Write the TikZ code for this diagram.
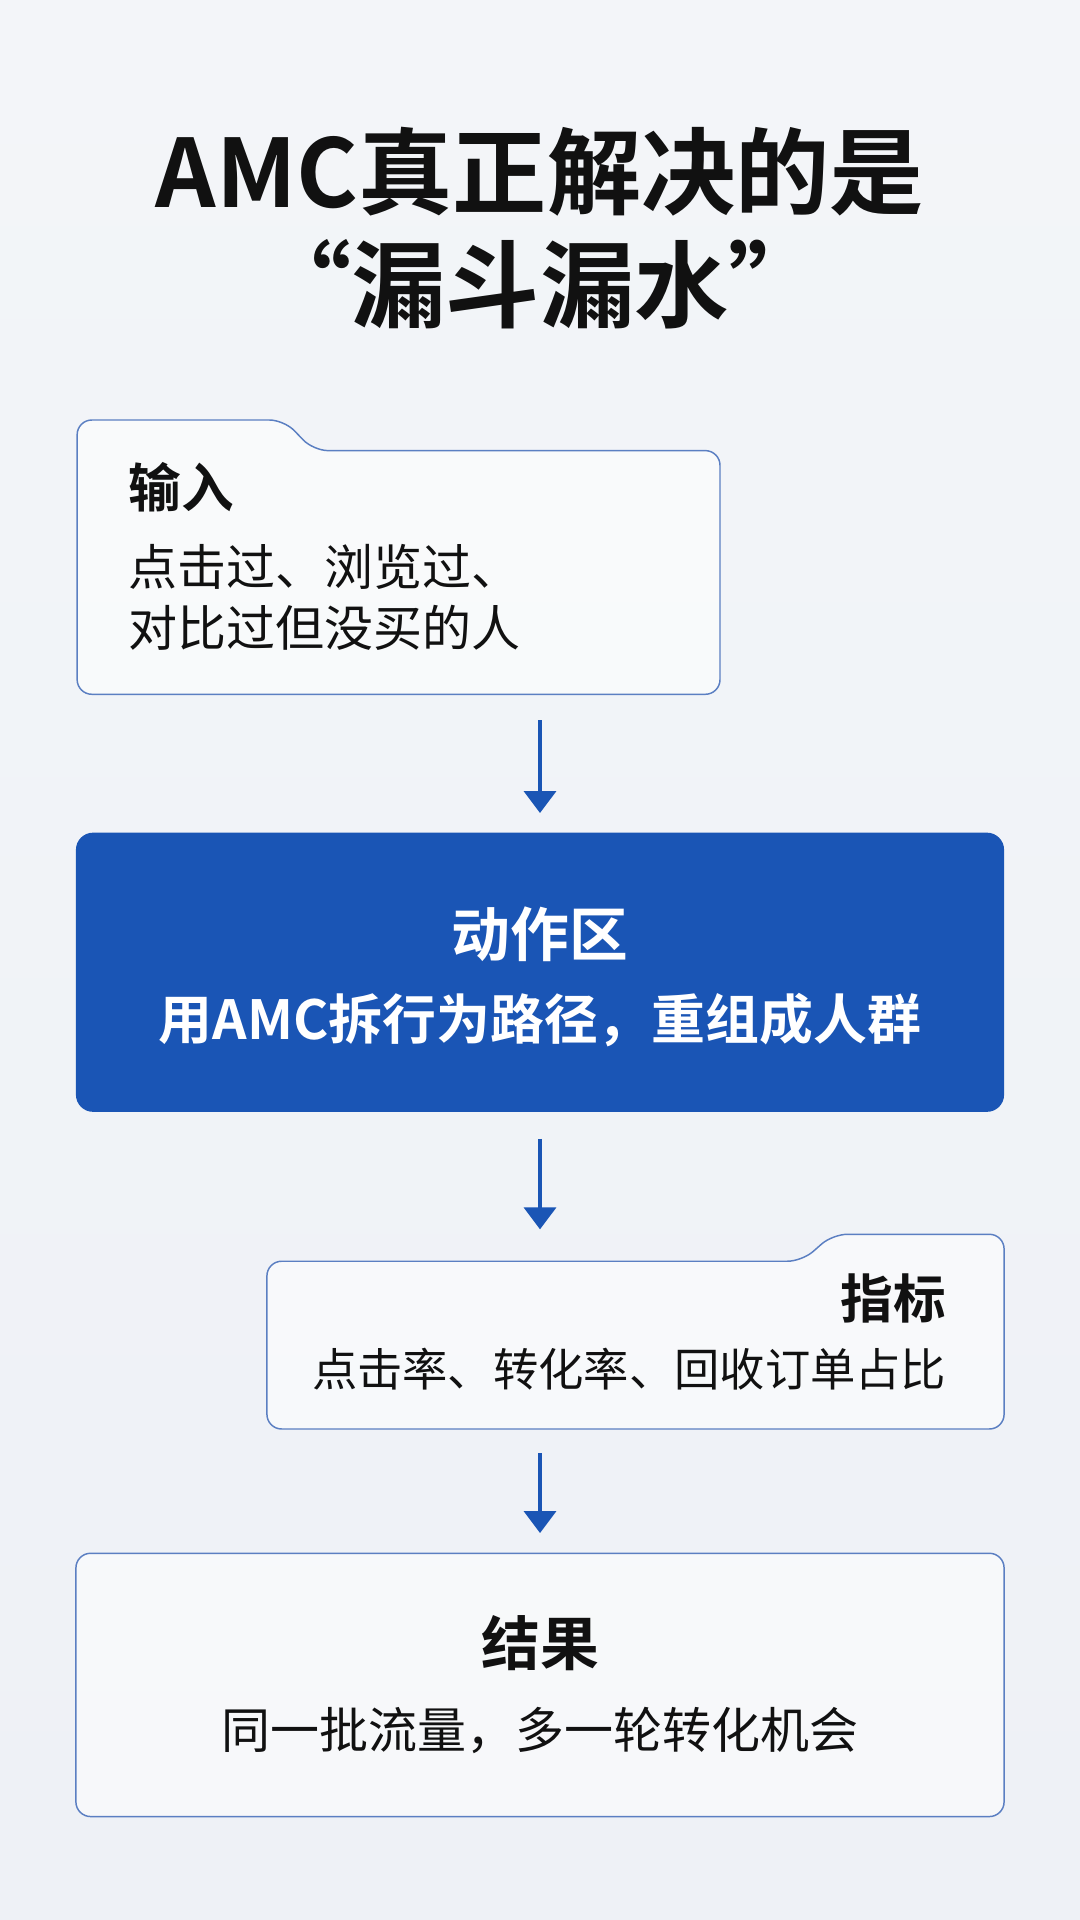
\documentclass[tikz,border=0pt]{standalone}
\usepackage{fontspec}
\setmainfont{Noto Sans CJK SC}
\newfontfamily\cjkb{Noto Sans CJK SC Bold}
\usetikzlibrary{arrows.meta}
\definecolor{bgc}{HTML}{EEF1F6}
\definecolor{bord}{HTML}{5B7FC2}
\definecolor{blu}{HTML}{1A55B5}
\definecolor{ink}{HTML}{111111}
\tikzset{
 boxline/.style={draw=bord,line width=1.2pt,fill=white,fill opacity=0.55,rounded corners=12pt},
 flowarrow/.style={draw=blu,line width=3.5pt,-{Triangle[length=18pt,width=26pt]}},
 lbl/.style={text=ink,font=\fontsize{40}{46}\selectfont,inner sep=0pt},
 hd/.style={text=ink,font=\cjkb\fontsize{43}{48}\selectfont,inner sep=0pt}
}
\begin{document}
\begin{tikzpicture}[x=1pt,y=-1pt]
\useasboundingbox (0,0) rectangle (882,1568);
\shade[top color=bgc!70!white,bottom color=bgc] (0,0) rectangle (882,1568);
% title
\node[text=ink,font=\cjkb\fontsize{77}{82}\selectfont,inner sep=0pt] (t1) at (441,140) {AMC真正解决的是};
\node[text=ink,font=\cjkb\fontsize{77}{82}\selectfont,inner sep=0pt] (t2) at (441,232) {“漏斗漏水”};
% box 1
\draw[boxline] (63,567) -- (63,343) -- (232,343) -- (256,368) -- (588,368) -- (588,567) -- cycle;
\node[hd,anchor=west] (h1) at (105,398) {输入};
\node[lbl,anchor=west] (l1a) at (105,463) {点击过、浏览过、};
\node[lbl,anchor=west] (l1b) at (105,513) {对比过但没买的人};
\coordinate (b1) at (441,588);
\coordinate (b2t) at (441,664);
\draw[flowarrow] (b1) -- (b2t);
% box 2
\node[fill=blu,rounded corners=14pt,minimum width=758pt,minimum height=228pt,inner sep=0pt] (box2) at (441,794) {};
\node[text=white,font=\cjkb\fontsize{48}{54}\selectfont,inner sep=0pt] (h2) at (441,763) {动作区};
\node[text=white,font=\cjkb\fontsize{44}{50}\selectfont,inner sep=0pt] (l2) at (441,833) {用AMC拆行为路径，重组成人群};
\coordinate (b3t) at (441,1004);
\draw[flowarrow] (box2.south |- 0,930) -- (b3t);
% box 3
\draw[boxline] (218,1167) -- (218,1030) -- (655,1030) -- (680,1008) -- (820,1008) -- (820,1167) -- cycle;
\node[hd,anchor=east] (h3) at (773,1060) {指标};
\node[lbl,anchor=east,font=\fontsize{37}{42}\selectfont] (l3) at (773,1118) {点击率、转化率、回收订单占比};
\coordinate (c3) at (441,1187);
\coordinate (c4) at (441,1252);
\draw[flowarrow] (c3) -- (c4);
% box 4
\node[boxline,minimum width=758pt,minimum height=215pt,inner sep=0pt] (box4) at (441,1376) {};
\node[hd,font=\cjkb\fontsize{48}{54}\selectfont] (h4) at (441,1342) {结果};
\node[lbl] (l4) at (441,1413) {同一批流量，多一轮转化机会};
\end{tikzpicture}
\end{document}
